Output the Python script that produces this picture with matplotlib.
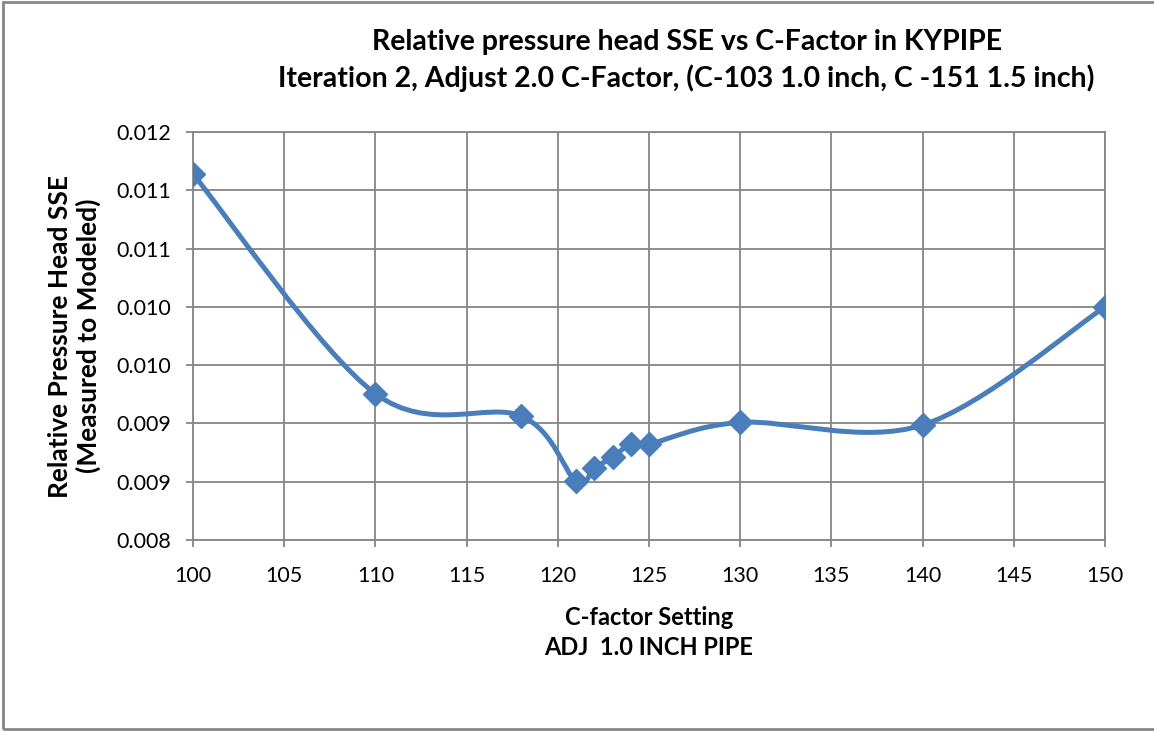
import numpy as np
import matplotlib
matplotlib.use("Agg")
import matplotlib.pyplot as plt
from matplotlib.path import Path
from matplotlib.patches import PathPatch, Rectangle

# Data
c_factor = [100, 110, 118, 121, 122, 123, 124, 125, 130, 140, 150]
sse = [0.01114, 0.009255, 0.009063, 0.008505, 0.008619, 0.008709,
       0.008825, 0.008823, 0.009009, 0.008986, 0.010]

x_ticks = [100, 105, 110, 115, 120, 125, 130, 135, 140, 145, 150]
y_ticks = [0.0080, 0.0085, 0.0090, 0.0095, 0.0100, 0.0105, 0.0110, 0.0115]
y_tick_labels = ['0.008', '0.009', '0.009', '0.010', '0.010', '0.011', '0.011', '0.012']

title = ("Relative pressure head SSE vs C-Factor in KYPIPE\n"
         "Iteration 2, Adjust 2.0 C-Factor, (C-103 1.0 inch, C -151 1.5 inch)")
x_label = "C-factor Setting\nADJ  1.0 INCH PIPE"
y_label = "Relative Pressure Head SSE\n(Measured to Modeled)"

blue = '#4a7ebb'
grey = '#868686'

plt.rcParams['font.family'] = ['Lato', 'DejaVu Sans']

fig = plt.figure(figsize=(11.54, 7.31), dpi=100)
ax = fig.add_axes([193 / 1154, 1 - 540 / 731, (1105 - 193) / 1154, (540 - 132) / 731])

# Smoothed line like Excel: cubic Bezier segments (Catmull-Rom style control points)
pts = np.column_stack([c_factor, sse])
verts = [pts[0]]
codes = [Path.MOVETO]
n = len(pts)
for i in range(n - 1):
    p0 = pts[max(i - 1, 0)]
    p1 = pts[i]
    p2 = pts[i + 1]
    p3 = pts[min(i + 2, n - 1)]
    verts += [p1 + (p2 - p0) / 6, p2 - (p3 - p1) / 6, p2]
    codes += [Path.CURVE4] * 3
ax.add_patch(PathPatch(Path(verts, codes), facecolor='none', edgecolor=blue,
                       lw=3.6, capstyle='round', joinstyle='round', zorder=3))
ax.plot(c_factor, sse, linestyle='none', marker='D', markersize=12,
        color=blue, zorder=4)

ax.set_xlim(100, 150)
ax.set_ylim(0.0080, 0.0115)
ax.set_xticks(x_ticks)
ax.set_yticks(y_ticks)
ax.set_yticklabels(y_tick_labels)
ax.grid(True, color=grey, lw=1.3, zorder=0)
ax.set_axisbelow(True)
for s in ax.spines.values():
    s.set_color(grey)
    s.set_linewidth(1.3)
ax.tick_params(axis='both', colors=grey, labelcolor='black', labelsize=15.5,
               length=5, width=1.3)
ax.tick_params(axis='y', pad=11)
ax.tick_params(axis='x', pad=14)

ax.set_xlabel(x_label, fontsize=17, fontweight='bold', labelpad=14, linespacing=1.4)
ax.set_ylabel(y_label, fontsize=19, fontweight='bold', labelpad=11, linespacing=1.15)

fig.text(0.595, 0.917, title, ha='center', va='center', fontsize=20.5,
         fontweight='bold', linespacing=1.4)

# chart border
fig.add_artist(Rectangle((3 / 1154, 2 / 731), 1.2, 1 - 4 / 731,
                         transform=fig.transFigure, fill=False,
                         edgecolor=grey, lw=2))

fig.savefig('out.png', dpi=100)
